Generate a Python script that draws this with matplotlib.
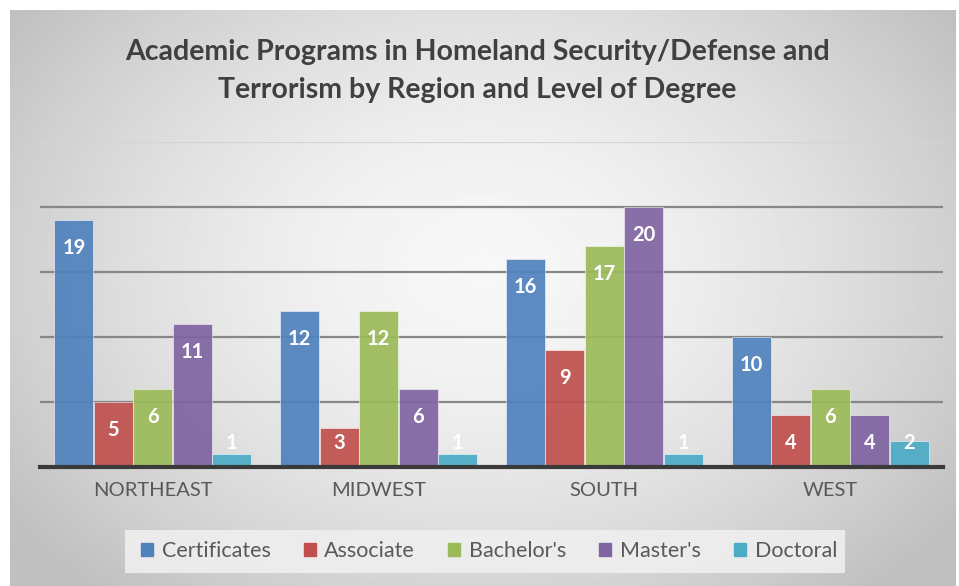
import numpy as np
from matplotlib import pyplot as plt
from matplotlib.patches import Rectangle

regions = ['NORTHEAST', 'MIDWEST', 'SOUTH', 'WEST']
levels = ['Certificates', 'Associate', "Bachelor's", "Master's", 'Doctoral']
values = {
    'Certificates': [19, 12, 16, 10],
    'Associate': [5, 3, 9, 4],
    "Bachelor's": [6, 12, 17, 6],
    "Master's": [11, 6, 20, 4],
    'Doctoral': [1, 1, 1, 2],
}
colors = ['#4f81bd', '#c0504d', '#9bbb59', '#8064a2', '#4bacc6']

W, H = 959, 586
fig = plt.figure(figsize=(W / 100, H / 100), dpi=100)
fig.patch.set_facecolor('white')

# radial grey gradient background, slightly inset from top/left
bg = fig.add_axes([10 / W, 0, (956 - 10) / W, (H - 10) / H])
yy, xx = np.mgrid[0:1:300j, 0:1:500j]
r = np.sqrt(((xx - 0.5) / 0.62) ** 2 + ((yy - 0.45) / 0.75) ** 2)
shade = 0.97 - 0.22 * np.clip(r, 0, 1) ** 1.6
bg.imshow(shade, cmap='gray', vmin=0, vmax=1, aspect='auto', extent=[0, 1, 0, 1])
bg.axis('off')

ax = fig.add_axes([40 / W, 119 / H, 903 / W, 325 / H])
ax.set_facecolor('none')

x = np.arange(len(regions))
width = 0.175
for i, (lvl, col) in enumerate(zip(levels, colors)):
    vals = values[lvl]
    pos = x + (i - 2) * width
    ax.bar(pos, vals, width * 0.99, color=col, alpha=0.92, zorder=3,
           edgecolor='white', linewidth=0.4)
    for p, v in zip(pos, vals):
        ax.text(p, max(v - 2.15, 1.85), str(v), ha='center', va='center',
                color='white', fontsize=14.5, fontweight='bold',
                family='Lato', zorder=4)

ax.set_xlim(-0.5, 3.5)
ax.set_ylim(0, 25)
ax.set_yticks([5, 10, 15, 20, 25])
ax.yaxis.grid(True, color='#878787', linewidth=1.6, zorder=1)
ax.get_ygridlines()[-1].set_color('#d4d4d4')
ax.tick_params(axis='y', left=False, labelleft=False)
ax.set_xticks(x)
ax.set_xticklabels(regions, fontsize=14.5, color='#595959', family='Lato')
ax.tick_params(axis='x', length=0, pad=11)
for s in ['top', 'right', 'left']:
    ax.spines[s].set_visible(False)
ax.spines['bottom'].set_color('#3a3a3a')
ax.spines['bottom'].set_linewidth(3)
ax.spines['bottom'].set_zorder(5)

fig.text(0.4975, 1 - 71 / H,
         'Academic Programs in Homeland Security/Defense and\n'
         'Terrorism by Region and Level of Degree',
         ha='center', va='center', fontsize=20.5, fontweight='bold',
         color='#404040', family='Lato', linespacing=1.55)

# legend box
fig.patches.append(Rectangle((125 / W, 1 - 573 / H), 720 / W, 43 / H,
                             transform=fig.transFigure, facecolor='#efefef',
                             edgecolor='none', alpha=0.9, zorder=2))
handles = [Rectangle((0, 0), 1, 1, color=c) for c in colors]
fig.legend(handles, levels, loc='center', bbox_to_anchor=(0.51, 1 - 551 / H),
           ncol=5, frameon=False, handlelength=0.55,
           handleheight=0.55, handletextpad=0.4, columnspacing=1.55,
           labelcolor='#595959', prop={'family': 'Lato', 'size': 15.5})

fig.savefig('out.png', dpi=100)
